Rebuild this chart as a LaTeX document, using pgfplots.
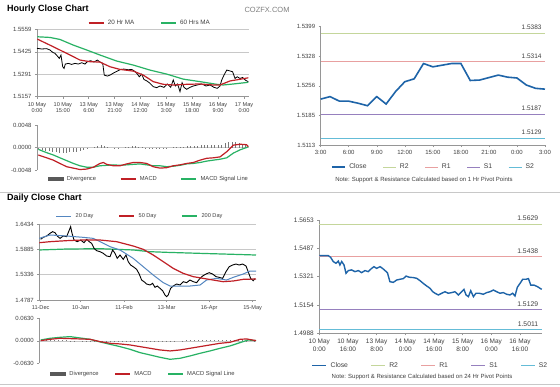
\documentclass[border=0pt]{standalone}
\usepackage{pgfplots}
\pgfplotsset{compat=1.18}
\usepackage{fontspec}
\setmainfont{Liberation Sans}
\definecolor{maRed}{RGB}{192,32,38}
\definecolor{maGreen}{RGB}{40,178,100}
\definecolor{maBlue}{RGB}{84,134,192}
\definecolor{closeBlue}{RGB}{30,100,168}
\definecolor{rTwo}{RGB}{196,214,155}
\definecolor{rOne}{RGB}{232,160,160}
\definecolor{sOne}{RGB}{150,128,190}
\definecolor{sTwo}{RGB}{100,188,215}
\definecolor{gridc}{RGB}{200,200,200}
\definecolor{axisc}{RGB}{150,150,150}
\definecolor{divc}{RGB}{120,120,120}
\definecolor{txt}{RGB}{64,64,64}
\pgfplotsset{
  base/.style={scale only axis, clip=false, scaled y ticks=false, scaled x ticks=false,
    axis line style={axisc, line width=0.5pt},
    every tick/.style={axisc, line width=0.5pt},
    major tick length=2pt, tick align=outside,
    tick label style={font=\fontsize{6}{7}\selectfont, text=txt},
    xticklabel style={align=center, font=\fontsize{5.6}{6.8}\selectfont},
    grid style={gridc, line width=0.5pt},
    legend style={draw=none, fill=none, font=\fontsize{6.3}{7}\selectfont, text=txt, legend columns=-1, anchor=center, inner sep=0pt},
    legend cell align=left,
  },
}
\begin{document}
\begin{tikzpicture}
\useasboundingbox (0pt,0pt) rectangle (560pt,-386pt);
\fill[white] (0pt,0pt) rectangle (560pt,-386pt);
\node[anchor=west, font=\bfseries\fontsize{9}{10}\selectfont, inner sep=0pt] at (7pt,-9pt) {Hourly Close Chart};
\node[font=\fontsize{7.5}{8}\selectfont, text=gray, inner sep=0pt] at (267pt,-10pt) {COZFX.COM};
\draw[gridc, line width=0.7pt] (0pt,-192pt) -- (560pt,-192pt);
\draw[gridc, line width=0.7pt] (0pt,-384.5pt) -- (560pt,-384.5pt);
\node[anchor=west, font=\bfseries\fontsize{9}{10}\selectfont, inner sep=0pt] at (7pt,-198.5pt) {Daily Close Chart};
\node[font=\fontsize{6}{7}\selectfont, text=txt, inner sep=0pt] at (424pt,-180pt) {Note: Support \& Resistance Calculated based on 1 Hr Pivot Points};
\node[font=\fontsize{6}{7}\selectfont, text=txt, inner sep=0pt] at (422pt,-376.7pt) {Note: Support \& Resistance Calculated based on 24 Hr Pivot Points};

% ---------------- Hourly main
\begin{axis}[base, at={(37pt,-96.7pt)}, anchor=south west, width=212pt, height=67.3pt,
  xmin=0, xmax=122.9, ymin=1.5157, ymax=1.5559,
  axis x line*=bottom, axis y line*=left, ymajorgrids,
  ytick={1.5157,1.5291,1.5425,1.5559}, yticklabels={1.5157,1.5291,1.5425,1.5559},
  xtick={0,15,30,45,60,75,90,105,120},
  xticklabels={{10 May\\0:00},{10 May\\15:00},{13 May\\6:00},{13 May\\21:00},{14 May\\12:00},{15 May\\3:00},{15 May\\18:00},{16 May\\9:00},{17 May\\0:00}},
  legend style={at={(0.533,1.095)}, /tikz/every even column/.append style={column sep=24pt}, /tikz/every odd column/.append style={column sep=1.5pt}},
  legend image code/.code={\draw[#1] (0pt,0pt)--(15pt,0pt);},
]
\addplot[black, line width=0.8pt, forget plot] coordinates {
(0,1.5446)(2.7,1.5442)(5.6,1.5444)(7.5,1.5436)(9.1,1.5422)(10.4,1.5416)(11.8,1.5400)(12.9,1.5386)(13.9,1.5406)(14.9,1.5336)(15.7,1.5326)(16.4,1.5352)(18.2,1.5356)(20.1,1.5350)(22.0,1.5356)(24.0,1.5352)(25.9,1.5360)(27.8,1.5352)(29.2,1.5366)(31.1,1.5372)(33.0,1.5364)(35.0,1.5376)(36.5,1.5364)(38.1,1.5356)(39.0,1.5286)(40.8,1.5280)(42.7,1.5288)(44.6,1.5300)(46.6,1.5310)(48.5,1.5320)(50.4,1.5322)(52.9,1.5318)(54.9,1.5320)(56.8,1.5308)(58.2,1.5292)(59.3,1.5276)(60.7,1.5292)(62.0,1.5260)(63.6,1.5252)(65.5,1.5237)(67.4,1.5217)(69.4,1.5211)(71.3,1.5221)(73.6,1.5213)(75.6,1.5233)(77.5,1.5213)(79.0,1.5257)(80.2,1.5221)(81.5,1.5233)(82.9,1.5187)(84.1,1.5241)(85.2,1.5213)(86.8,1.5201)(88.7,1.5213)(90.6,1.5221)(92.9,1.5227)(95.5,1.5233)(98.0,1.5221)(100.3,1.5227)(102.6,1.5213)(104.5,1.5207)(106.1,1.5221)(107.1,1.5257)(108.4,1.5286)(110.0,1.5316)(111.5,1.5312)(113.4,1.5306)(114.8,1.5266)(116.1,1.5276)(117.7,1.5266)(119.2,1.5272)(120.8,1.5256)(122.5,1.5247)};
\addplot[maGreen, line width=1.2pt, forget plot] coordinates {
(0.2,1.5515)(7.5,1.5511)(13.3,1.5499)(21.1,1.5465)(28.8,1.5436)(36.5,1.5406)(46.2,1.5370)(55.8,1.5346)(65.5,1.5316)(75.2,1.5292)(84.8,1.5262)(94.5,1.5247)(104.2,1.5231)(108.0,1.5227)(113.8,1.5233)(122.5,1.5243)};
\addplot[maRed, line width=1.2pt, forget plot] coordinates {
(0.2,1.5501)(7.5,1.5465)(17.2,1.5416)(24.9,1.5376)(30.7,1.5366)(36.5,1.5364)(42.3,1.5336)(48.1,1.5320)(55.8,1.5310)(61.6,1.5286)(67.4,1.5247)(73.2,1.5231)(79.0,1.5227)(86.8,1.5231)(94.5,1.5233)(102.2,1.5227)(106.1,1.5227)(111.9,1.5251)(117.7,1.5261)(122.5,1.5270)};
\addlegendimage{maRed, line width=1.2pt}\addlegendentry{20 Hr MA}
\addlegendimage{maGreen, line width=1.2pt}\addlegendentry{60 Hrs MA}
\end{axis}

% ---------------- Hourly MACD
\begin{axis}[base, at={(37pt,-170pt)}, anchor=south west, width=212pt, height=45pt,
  xmin=0, xmax=122.9, ymin=-0.0048, ymax=0.0048,
  axis y line*=left, axis x line*=middle, xtick=\empty, x axis line style={gridc},
  ytick={-0.0048,0,0.0048}, yticklabels={-0.0048,0.0000,0.0048},
  legend style={at={(0.528,-0.2)}, font=\fontsize{5.8}{7}\selectfont, /tikz/every even column/.append style={column sep=22pt}, /tikz/every odd column/.append style={column sep=1.5pt}},
  legend image code/.code={\draw[#1] (0pt,0pt)--(15pt,0pt);},
]
\addplot[ycomb, divc, line width=0.6pt, forget plot] coordinates {
(1,-0.0003)(3,-0.0005)(5,-0.0007)(7,-0.0008)(9,-0.0009)(11,-0.0010)(13,-0.0011)(15,-0.0011)(17,-0.0011)(19,-0.0010)(21,-0.0010)(23,-0.0009)(25,-0.0007)(27,-0.0005)(29,-0.0002)(31,0.0000)(33,0.0002)(35,0.0004)(37,0.0005)(39,0.0004)(41,0.0002)(43,0.0000)(45,-0.0001)(47,-0.0001)(49,0.0000)(51,0.0001)(53,0.0002)(55,0.0003)(57,0.0003)(59,0.0002)(61,0.0001)(63,-0.0001)(65,-0.0002)(67,-0.0003)(69,-0.0003)(71,-0.0003)(73,-0.0002)(75,-0.0001)(77,0.0000)(79,0.0001)(81,0.0002)(83,0.0002)(85,0.0002)(87,0.0003)(89,0.0003)(91,0.0004)(93,0.0004)(95,0.0005)(97,0.0005)(99,0.0005)(101,0.0005)(103,0.0005)(105,0.0005)(107,0.0006)(109,0.0009)(111,0.0011)(113,0.0012)(115,0.0011)(117,0.0010)(119,0.0008)(121,0.0005)};
\addplot[maGreen, line width=1.2pt, forget plot] coordinates {
(0.8,-0.0004)(5.6,-0.0011)(9.5,-0.0016)(13.3,-0.0022)(17.2,-0.0028)(21.1,-0.0034)(24.9,-0.0039)(28.8,-0.0042)(32.7,-0.0042)(36.5,-0.0039)(40.4,-0.0038)(44.3,-0.0037)(48.1,-0.0038)(52.0,-0.0037)(55.8,-0.0036)(59.7,-0.0035)(63.6,-0.0037)(67.4,-0.0039)(71.3,-0.0039)(75.2,-0.0041)(79.0,-0.0040)(82.9,-0.0038)(86.8,-0.0035)(90.6,-0.0034)(94.5,-0.0032)(98.4,-0.0029)(102.2,-0.0027)(106.1,-0.0025)(110.0,-0.0022)(113.8,-0.0012)(117.7,-0.0005)(121.5,0.0000)(122.5,0.0002)};
\addplot[maRed, line width=1.2pt, forget plot] coordinates {
(0.8,-0.0016)(5.6,-0.0022)(9.5,-0.0027)(13.3,-0.0034)(17.2,-0.0041)(21.1,-0.0044)(24.9,-0.0047)(28.8,-0.0046)(32.7,-0.0042)(36.5,-0.0034)(38.5,-0.0032)(40.4,-0.0036)(44.3,-0.0039)(48.1,-0.0039)(52.0,-0.0035)(55.8,-0.0032)(59.7,-0.0032)(63.6,-0.0034)(67.4,-0.0041)(71.3,-0.0044)(75.2,-0.0043)(79.0,-0.0039)(82.9,-0.0037)(86.8,-0.0034)(90.6,-0.0032)(94.5,-0.0027)(98.4,-0.0023)(102.2,-0.0022)(106.1,-0.0020)(110.0,-0.0009)(113.8,0.0005)(117.7,0.0007)(121.5,0.0006)(122.5,0.0002)};
\addlegendimage{legend image code/.code={\fill[black!65] (0pt,-1.6pt) rectangle (15pt,1.6pt);}}\addlegendentry{Divergence}
\addlegendimage{maRed, line width=1.2pt}\addlegendentry{MACD}
\addlegendimage{maGreen, line width=1.2pt}\addlegendentry{MACD Signal Line}
\end{axis}

% ---------------- Hourly pivot (top right)
\begin{axis}[base, at={(320.7pt,-145pt)}, anchor=south west, width=224.3pt, height=118.3pt,
  xmin=0, xmax=24, ymin=1.5113, ymax=1.5399,
  axis x line*=bottom, axis y line*=left,
  ytick={1.5113,1.5185,1.5256,1.5328,1.5399}, yticklabels={1.5113,1.5185,1.5256,1.5328,1.5399},
  xtick={0,3,6,9,12,15,18,21,24}, xticklabels={3:00,6:00,9:00,12:00,15:00,18:00,21:00,0:00,3:00},
  xticklabel style={font=\fontsize{6}{7}\selectfont},
  legend style={at={(0.503,-0.186)}, font=\fontsize{6.8}{7.5}\selectfont, /tikz/every even column/.append style={column sep=14pt}, /tikz/every odd column/.append style={column sep=1.5pt}},
  legend image code/.code={\draw[#1] (0pt,0pt)--(13pt,0pt);},
]
\addplot[rTwo, line width=0.8pt, forget plot] coordinates {(0,1.5383)(24,1.5383)};
\addplot[rOne, line width=0.8pt, forget plot] coordinates {(0,1.5314)(24,1.5314)};
\addplot[sOne, line width=0.8pt, forget plot] coordinates {(0,1.5187)(24,1.5187)};
\addplot[sTwo, line width=0.8pt, forget plot] coordinates {(0,1.5129)(24,1.5129)};
\addplot[closeBlue, line width=1.6pt, forget plot] coordinates {
(0,1.5224)(1,1.5230)(2,1.5219)(3,1.5219)(4,1.5214)(5,1.5208)(6,1.5230)(7,1.5212)(8,1.5242)(9,1.5266)(10,1.5273)(11,1.5310)(12,1.5302)(13,1.5306)(14,1.5310)(15,1.5310)(16,1.5269)(17,1.5270)(18,1.5276)(19,1.5282)(20,1.5277)(21,1.5275)(22,1.5258)(23,1.5250)(24,1.5248)};
\node[anchor=south east, font=\fontsize{6.5}{7}\selectfont, text=txt, inner sep=0pt, yshift=3.5pt] at (axis cs:23.65,1.5383) {1.5383};
\node[anchor=south east, font=\fontsize{6.5}{7}\selectfont, text=txt, inner sep=0pt, yshift=3.5pt] at (axis cs:23.65,1.5314) {1.5314};
\node[anchor=south east, font=\fontsize{6.5}{7}\selectfont, text=txt, inner sep=0pt, yshift=3.5pt] at (axis cs:23.65,1.5187) {1.5187};
\node[anchor=south east, font=\fontsize{6.5}{7}\selectfont, text=txt, inner sep=0pt, yshift=3.5pt] at (axis cs:23.65,1.5129) {1.5129};
\addlegendimage{closeBlue, line width=1.6pt}\addlegendentry{Close}
\addlegendimage{rTwo, line width=0.8pt}\addlegendentry{R2}
\addlegendimage{rOne, line width=0.8pt}\addlegendentry{R1}
\addlegendimage{sOne, line width=0.8pt}\addlegendentry{S1}
\addlegendimage{sTwo, line width=0.8pt}\addlegendentry{S2}
\end{axis}

% ---------------- Daily main
\begin{axis}[base, at={(39.3pt,-300pt)}, anchor=south west, width=216.7pt, height=76pt,
  xmin=-0.67, xmax=107.7, ymin=1.4787, ymax=1.6434,
  axis x line*=bottom, axis y line*=left, ymajorgrids,
  ytick={1.4787,1.5336,1.5885,1.6434}, yticklabels={1.4787,1.5336,1.5885,1.6434},
  xtick={0,20,41.7,63,84.3,106}, xticklabels={11-Dec,10-Jan,11-Feb,13-Mar,16-Apr,15-May},
  legend style={at={(0.465,1.105)}, font=\fontsize{5.6}{6.5}\selectfont, /tikz/every even column/.append style={column sep=23pt}, /tikz/every odd column/.append style={column sep=2pt}},
  legend image code/.code={\draw[#1] (0pt,0pt)--(15pt,0pt);},
]
\addplot[maGreen, line width=1.2pt, forget plot] coordinates {
(-0.67,1.5871)(13,1.5892)(29.7,1.5899)(46.3,1.5871)(54.7,1.5834)(63,1.5820)(79.7,1.5798)(96.3,1.5777)(107.7,1.5762)};
\addplot[black, line width=0.9pt, forget plot] coordinates {
(0,1.6102)(1.3,1.6145)(3,1.6174)(4.7,1.6232)(6,1.6268)(7.2,1.6246)(8.3,1.6174)(9.7,1.6123)(11.3,1.6174)(13,1.6160)(13.8,1.6246)(15,1.6376)(15.7,1.6232)(16.7,1.6087)(18.3,1.6051)(20,1.6087)(21.7,1.6029)(23,1.6102)(24.3,1.6051)(25.5,1.6015)(26.7,1.5907)(28,1.5856)(29.7,1.5834)(31.3,1.5798)(33,1.5741)(34.7,1.5726)(36,1.5871)(37.2,1.5798)(38.3,1.5690)(39.7,1.5762)(41.3,1.5668)(42.7,1.5762)(43.8,1.5618)(45,1.5545)(46.3,1.5509)(48,1.5452)(49.3,1.5350)(50.5,1.5220)(51.7,1.5184)(53,1.5134)(54.7,1.5112)(56,1.5148)(57.2,1.5061)(58.3,1.5090)(59.7,1.5040)(61,1.4989)(62.2,1.4895)(63,1.4859)(63.8,1.4895)(65,1.5040)(66.3,1.5090)(68,1.5134)(69.7,1.5112)(71.3,1.5184)(73,1.5163)(74.7,1.5220)(76.3,1.5184)(78,1.5163)(79.3,1.5235)(81,1.5307)(82.7,1.5350)(84.3,1.5379)(86,1.5350)(87.7,1.5293)(89.3,1.5278)(91,1.5256)(92.7,1.5401)(94.3,1.5509)(96,1.5545)(97.7,1.5567)(99.3,1.5545)(101,1.5567)(102.7,1.5524)(103.8,1.5401)(105,1.5256)(106.3,1.5206)(107.2,1.5249)};
\addplot[maBlue, line width=1pt, forget plot] coordinates {
(-0.67,1.6123)(4.7,1.6196)(13,1.6174)(21.3,1.6145)(26.3,1.6123)(29.7,1.6051)(34.7,1.5943)(39.7,1.5871)(46.3,1.5690)(51.3,1.5509)(56.3,1.5329)(61.3,1.5163)(64.7,1.5090)(69.7,1.5090)(74.7,1.5090)(79.7,1.5112)(83,1.5220)(88,1.5256)(93,1.5220)(96.3,1.5278)(101.3,1.5350)(104.7,1.5415)(107.7,1.5415)};
\addplot[maRed, line width=1.2pt, forget plot] coordinates {
(-0.67,1.6029)(4.7,1.6051)(13,1.6073)(21.3,1.6087)(29.7,1.6087)(38,1.6051)(46.3,1.5957)(51.3,1.5885)(56.3,1.5762)(61.3,1.5618)(66.3,1.5473)(71.3,1.5365)(76.3,1.5293)(81.3,1.5256)(86.3,1.5220)(91.3,1.5184)(96.3,1.5199)(101.3,1.5235)(107.7,1.5242)};
\addlegendimage{maBlue, line width=1pt}\addlegendentry{20 Day}
\addlegendimage{maRed, line width=1.2pt}\addlegendentry{50 Day}
\addlegendimage{maGreen, line width=1.2pt}\addlegendentry{200 Day}
\end{axis}

% ---------------- Daily MACD
\begin{axis}[base, at={(39.3pt,-363.3pt)}, anchor=south west, width=216.7pt, height=45pt,
  xmin=-0.67, xmax=107.7, ymin=-0.063, ymax=0.063,
  axis y line*=left, axis x line*=middle, xtick=\empty, x axis line style={gridc},
  ytick={-0.063,0,0.063}, yticklabels={-0.0630,0.0000,0.0630},
  legend style={at={(0.481,-0.238)}, font=\fontsize{5.8}{7}\selectfont, /tikz/every even column/.append style={column sep=14pt}, /tikz/every odd column/.append style={column sep=1.5pt}},
  legend image code/.code={\draw[#1] (0pt,0pt)--(15pt,0pt);},
]
\addplot[ycomb, divc, line width=0.6pt, forget plot] coordinates {
(1,0.001)(3,0.0015)(5,0.002)(7,0.002)(9,0.002)(11,0.0015)(13,0.001)(15,0.0005)(17,0.0005)(19,0.0)(21,-0.0005)(23,-0.001)(25,-0.0015)(27,-0.002)(29,-0.002)(31,-0.0025)(33,-0.003)(35,-0.003)(37,-0.003)(39,-0.0035)(41,-0.0035)(43,-0.004)(45,-0.004)(47,-0.004)(49,-0.0035)(51,-0.0035)(53,-0.003)(55,-0.003)(57,-0.0025)(59,-0.002)(61,-0.002)(63,-0.0015)(65,-0.001)(67,-0.0005)(69,0.0)(71,0.0005)(73,0.001)(75,0.0015)(77,0.002)(79,0.0025)(81,0.003)(83,0.003)(85,0.003)(87,0.003)(89,0.003)(91,0.0025)(93,0.0025)(95,0.002)(97,0.002)(99,0.0015)(101,0.001)(103,0.0005)(105,0.0)(107,-0.0005)};
\addplot[maGreen, line width=1.2pt, forget plot] coordinates {
(0,0.0023)(4.7,0.0070)(9.7,0.0098)(14.7,0.0117)(19.7,0.0080)(24.7,0.0042)(29.7,-0.0032)(34.7,-0.0098)(39.7,-0.0163)(44.7,-0.0238)(49.7,-0.0331)(54.7,-0.0396)(59.7,-0.0462)(64.7,-0.0518)(69.7,-0.0490)(74.7,-0.0424)(79.7,-0.0350)(84.7,-0.0284)(89.7,-0.0210)(94.7,-0.0144)(99.7,-0.0051)(103.8,0.0023)(107.7,0.0005)};
\addplot[maRed, line width=1.2pt, forget plot] coordinates {
(0,0.0005)(4.7,0.0042)(9.7,0.0070)(14.7,0.0061)(19.7,0.0052)(24.7,0.0042)(29.7,-0.0023)(34.7,-0.0070)(39.7,-0.0088)(44.7,-0.0116)(49.7,-0.0163)(54.7,-0.0210)(59.7,-0.0256)(64.7,-0.0284)(69.7,-0.0256)(74.7,-0.0210)(79.7,-0.0163)(84.7,-0.0116)(89.7,-0.0070)(94.7,-0.0042)(99.7,0.0042)(103,0.0052)(107.7,0.0005)};
\addlegendimage{legend image code/.code={\fill[black!65] (0pt,-1.6pt) rectangle (15pt,1.6pt);}}\addlegendentry{Divergence}
\addlegendimage{maRed, line width=1.2pt}\addlegendentry{MACD}
\addlegendimage{maGreen, line width=1.2pt}\addlegendentry{MACD Signal Line}
\end{axis}

% ---------------- Daily pivot (bottom right)
\begin{axis}[base, at={(319.3pt,-333.3pt)}, anchor=south west, width=222.4pt, height=113.3pt,
  xmin=0, xmax=124.1, ymin=1.4988, ymax=1.5653,
  axis x line*=bottom, axis y line*=left,
  tick label style={font=\fontsize{6.5}{7.5}\selectfont},
  xticklabel style={font=\fontsize{6.5}{7.8}\selectfont},
  ytick={1.4988,1.5154,1.5321,1.5487,1.5653}, yticklabels={1.4988,1.5154,1.5321,1.5487,1.5653},
  xtick={0,16,32,48,64,80,96,112},
  xticklabels={{10 May\\0:00},{10 May\\16:00},{13 May\\8:00},{14 May\\0:00},{14 May\\16:00},{15 May\\8:00},{16 May\\0:00},{16 May\\16:00}},
  legend style={at={(0.5,-0.286)}, font=\fontsize{6.8}{7.5}\selectfont, /tikz/every even column/.append style={column sep=21pt}, /tikz/every odd column/.append style={column sep=1.5pt}},
  legend image code/.code={\draw[#1] (0pt,0pt)--(14pt,0pt);},
]
\addplot[rTwo, line width=0.8pt, forget plot] coordinates {(0,1.5629)(124.1,1.5629)};
\addplot[rOne, line width=0.8pt, forget plot] coordinates {(0,1.5438)(124.1,1.5438)};
\addplot[sOne, line width=0.8pt, forget plot] coordinates {(0,1.5129)(124.1,1.5129)};
\addplot[sTwo, line width=0.8pt, forget plot] coordinates {(0,1.5011)(124.1,1.5011)};
\addplot[closeBlue, line width=1.4pt, forget plot] coordinates {
(0,1.5444)(5.0,1.5444)(6.3,1.5434)(7.8,1.5409)(9.3,1.5399)(10.6,1.5412)(11.5,1.5389)(12.5,1.5409)(13.8,1.5389)(14.9,1.5340)(16.2,1.5356)(18.0,1.5360)(19.9,1.5350)(21.8,1.5356)(23.6,1.5344)(25.5,1.5356)(27.3,1.5350)(29.2,1.5369)(30.5,1.5379)(32.0,1.5369)(33.9,1.5379)(35.3,1.5369)(36.7,1.5356)(38.0,1.5344)(39.4,1.5291)(41.3,1.5287)(43.2,1.5301)(45.0,1.5305)(46.9,1.5309)(48.4,1.5324)(50.2,1.5317)(52.5,1.5315)(54.3,1.5311)(56.2,1.5297)(58.0,1.5281)(59.9,1.5266)(61.8,1.5252)(63.3,1.5232)(64.6,1.5223)(66.4,1.5213)(68.3,1.5223)(70.1,1.5232)(72.0,1.5223)(73.9,1.5227)(75.7,1.5232)(77.6,1.5213)(79.4,1.5232)(80.7,1.5246)(81.9,1.5213)(83.2,1.5203)(84.5,1.5238)(86.0,1.5203)(87.4,1.5223)(89.3,1.5223)(91.5,1.5217)(93.4,1.5227)(95.3,1.5232)(97.1,1.5242)(99.0,1.5232)(100.8,1.5223)(102.7,1.5227)(104.6,1.5217)(106.4,1.5213)(107.9,1.5223)(109.2,1.5207)(110.5,1.5258)(112.0,1.5281)(113.5,1.5305)(115.3,1.5305)(116.7,1.5309)(118.0,1.5271)(119.8,1.5271)(121.7,1.5262)(124.1,1.5246)};
\node[anchor=south east, font=\fontsize{6.8}{7.5}\selectfont, text=txt, inner sep=0pt, yshift=3pt] at (axis cs:122.2,1.5629) {1.5629};
\node[anchor=south east, font=\fontsize{6.8}{7.5}\selectfont, text=txt, inner sep=0pt, yshift=3pt] at (axis cs:122.2,1.5438) {1.5438};
\node[anchor=south east, font=\fontsize{6.8}{7.5}\selectfont, text=txt, inner sep=0pt, yshift=3pt] at (axis cs:122.2,1.5129) {1.5129};
\node[anchor=south east, font=\fontsize{6.8}{7.5}\selectfont, text=txt, inner sep=0pt, yshift=3pt] at (axis cs:122.2,1.5011) {1.5011};
\addlegendimage{closeBlue, line width=1.4pt}\addlegendentry{Close}
\addlegendimage{rTwo, line width=0.8pt}\addlegendentry{R2}
\addlegendimage{rOne, line width=0.8pt}\addlegendentry{R1}
\addlegendimage{sOne, line width=0.8pt}\addlegendentry{S1}
\addlegendimage{sTwo, line width=0.8pt}\addlegendentry{S2}
\end{axis}
\end{tikzpicture}
\end{document}
